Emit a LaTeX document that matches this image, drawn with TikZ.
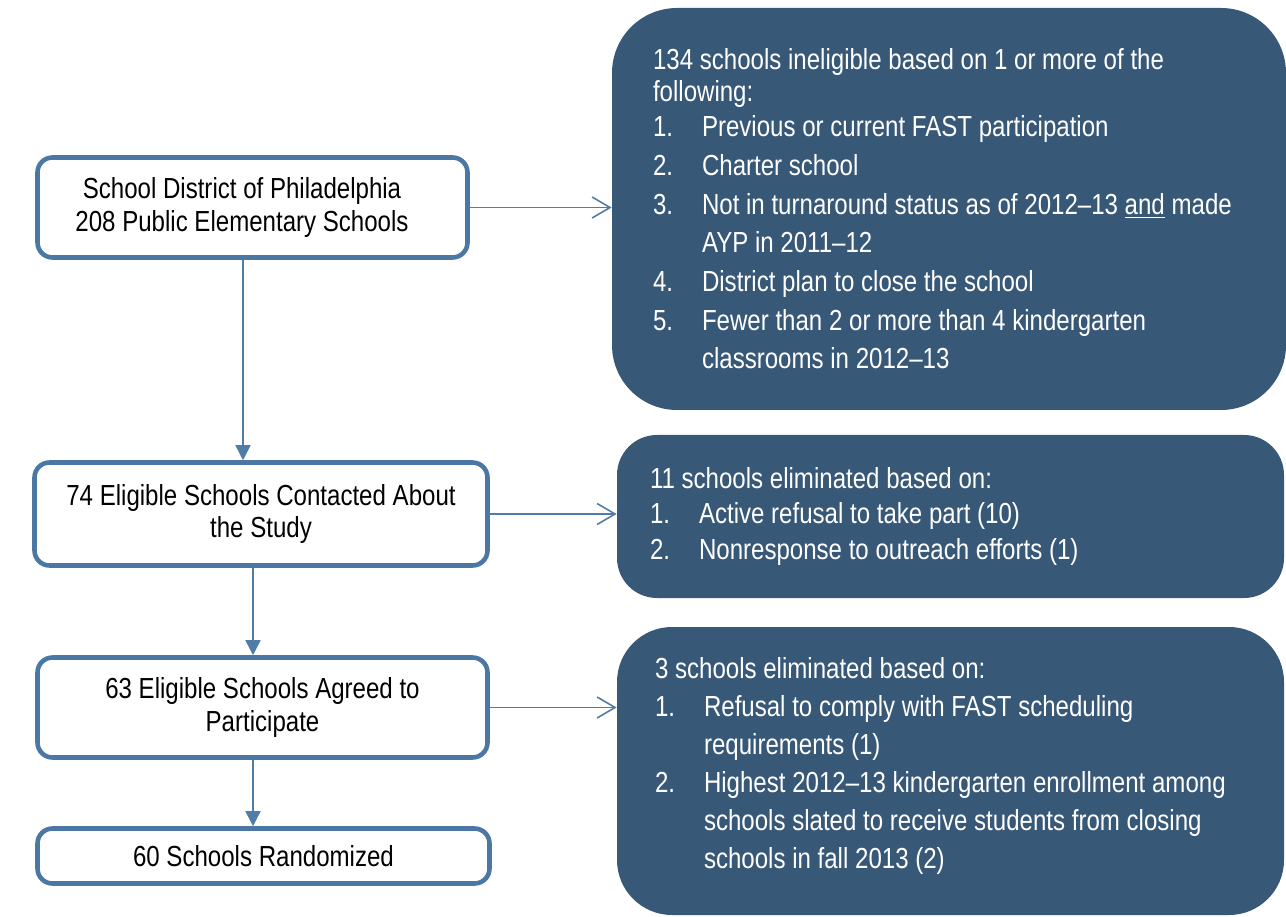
\documentclass[tikz,border=0pt]{standalone}
\usepackage{fontspec}
\setmainfont{Liberation Sans}[FakeStretch=0.83]
\usetikzlibrary{positioning,arrows.meta}

\definecolor{stageblue}{RGB}{74,119,163}
\definecolor{critblue}{RGB}{56,88,120}
\definecolor{flowblue}{RGB}{79,124,168}

\newcommand{\critnum}[1]{\makebox[0.98cm][l]{#1}}

\begin{document}
\begin{tikzpicture}[
    stage/.style={draw=stageblue, line width=2.6pt, rounded corners=0.3cm, fill=white,
                  align=center, inner sep=0pt, font=\fontsize{16.5}{18.5}\selectfont},
    crit/.style={fill=critblue, text=white, align=left, inner ysep=0pt,
                 font=\fontsize{16.5}{22}\selectfont,
                 execute at begin node={\spaceskip=0pt\xspaceskip=0pt\relax}},
    down/.style={draw=flowblue, line width=0.9pt, -{Triangle[length=0.3cm,width=0.3cm]}},
    side/.style={draw=flowblue, line width=0.9pt, -{Straight Barb[length=0.36cm,width=0.42cm]}}
  ]
    \useasboundingbox (0,0) rectangle (25.72,-18.34);

    % left column: the stages
    \node (box1) [stage, minimum width=8.6cm, minimum height=2.0cm] at (5.05,-4.15)
        {School District of Philadelphia\hspace*{0.42cm}\\208 Public Elementary Schools\hspace*{0.42cm}};
    \node (box2) [stage, minimum width=9.06cm, minimum height=2.06cm] at (5.22,-10.28)
        {74 Eligible Schools Contacted About\\the Study};
    \node (box3) [stage, minimum width=9.0cm, minimum height=2.0cm] at (5.25,-14.15)
        {63 Eligible Schools Agreed to\\Participate};
    \node (box4) [stage, minimum width=9.04cm, minimum height=1.1cm] at (5.27,-17.12)
        {60 Schools Randomized};

    % right column: who dropped out
    \node (crit1) [crit, rounded corners=1.3cm, minimum width=13.48cm, minimum height=8.04cm,
                   inner xsep=0.82cm, text width=11.84cm] at (18.98,-4.18)
        {134 schools ineligible based on 1 or more of the\\[-3.8pt]
         following:\\[-2.1pt]
         \critnum{1.}Previous or current FAST participation\\
         \critnum{2.}Charter school\\
         \mbox{\critnum{3.}Not in turnaround status as of 2012–13 \underline{and} made}\\
         \critnum{}AYP in 2011–12\\
         \critnum{4.}District plan to close the school\\
         \critnum{5.}Fewer than 2 or more than 4 kindergarten\\
         \critnum{}classrooms in 2012–13};
    \node (crit2) [crit, rounded corners=0.8cm, minimum width=13.34cm, minimum height=3.26cm,
                   inner xsep=0.66cm, text width=12.02cm] at (19.01,-10.33)
        {11 schools eliminated based on:\\[-2pt]
         \critnum{1.}Active refusal to take part (10)\\[-2pt]
         \critnum{2.}Nonresponse to outreach efforts (1)};
    \node (crit3) [crit, rounded corners=1.1cm, minimum width=13.34cm, minimum height=5.76cm,
                   inner xsep=0.76cm, text width=11.82cm] at (19.01,-15.42)
        {3 schools eliminated based on:\\[-0.4pt]
         \critnum{1.}Refusal to comply with FAST scheduling\\[-0.4pt]
         \critnum{}requirements (1)\\[-0.4pt]
         \mbox{\critnum{2.}Highest 2012–13 kindergarten enrollment among}\\[-0.4pt]
         \critnum{}schools slated to receive students from closing\\[-0.4pt]
         \critnum{}schools in fall 2013 (2)\par\vspace*{0.2cm}};

    % arrows down the stages
    \draw[down] ([xshift=-0.19cm]box1.south) -- ([xshift=-0.19cm]box1.south |- box2.north);
    \draw[down] ([xshift=-0.16cm]box2.south) -- ([xshift=-0.16cm]box2.south |- box3.north);
    \draw[down] ([xshift=-0.19cm]box3.south) -- ([xshift=-0.19cm]box3.south |- box4.north);

    % arrows out to the right
    \draw[side] (box1.east) -- (box1.east -| crit1.west);
    \draw[side] (box2.east) -- (box2.east -| crit2.west);
    \draw[side] (box3.east) -- (box3.east -| crit3.west);
\end{tikzpicture}
\end{document}
